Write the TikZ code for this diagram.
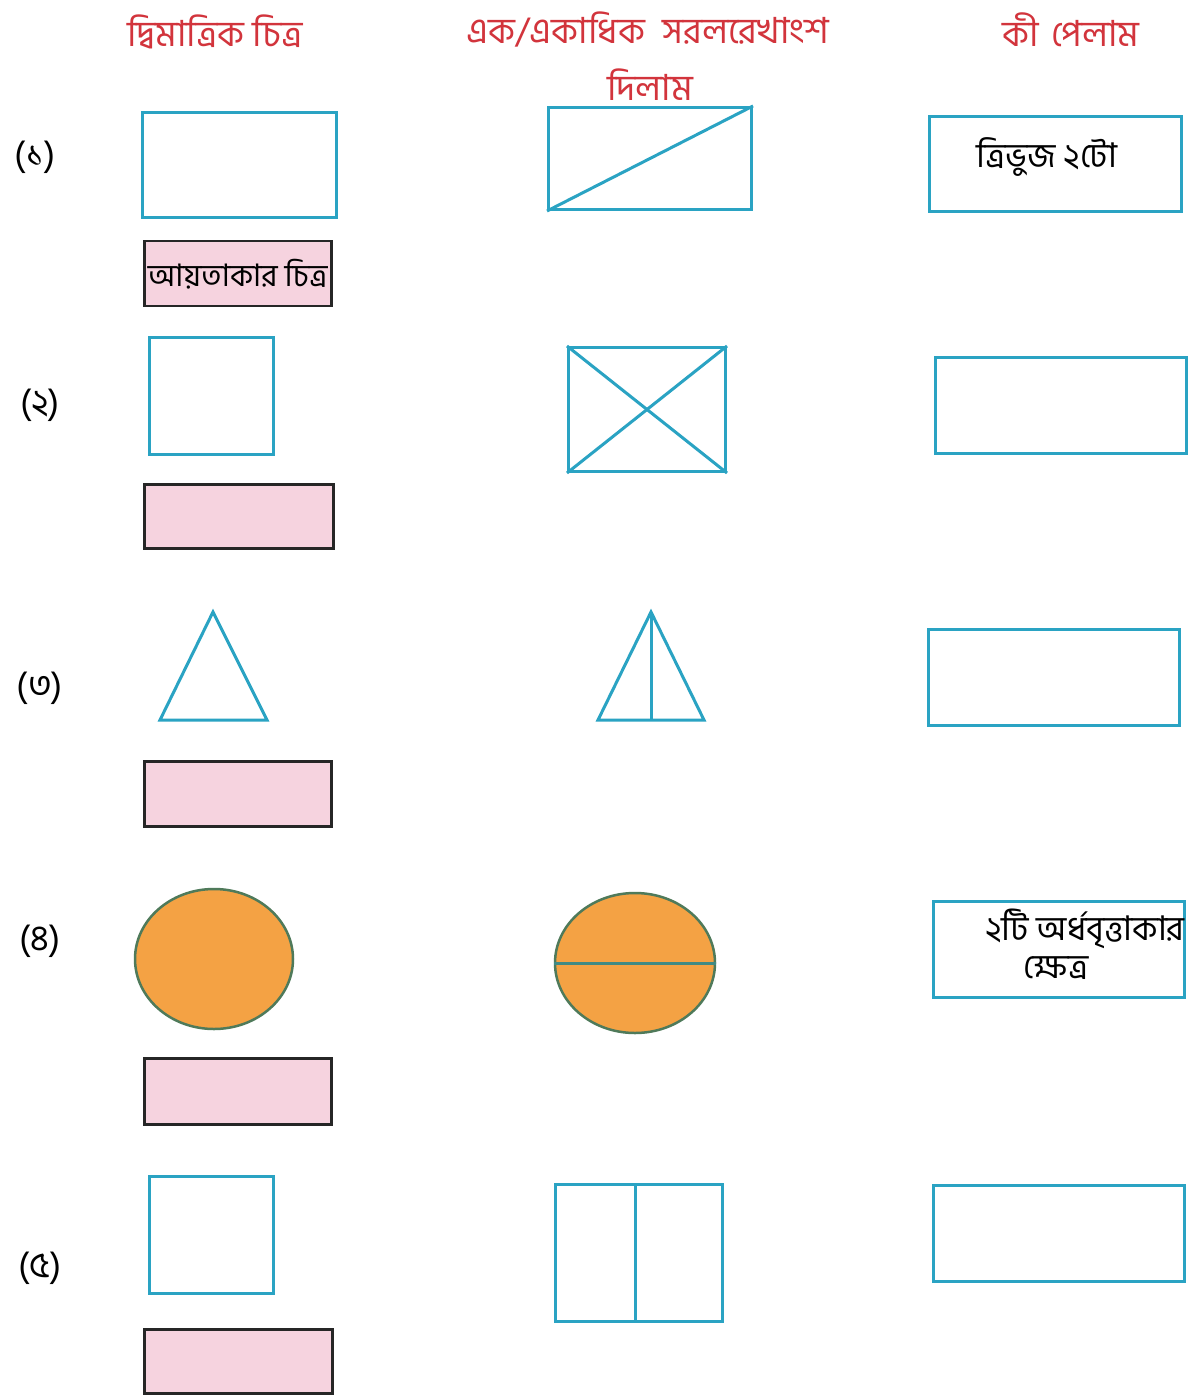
\documentclass[tikz,border=0pt]{standalone}
\usepackage{fontspec}
\newfontfamily\bn[Script=Bengali]{Hind Siliguri}
\usetikzlibrary{shapes.geometric}
\definecolor{lineblue}{HTML}{2AA3C3}
\definecolor{headred}{HTML}{D2343C}
\definecolor{pinkfill}{HTML}{F6D3DF}
\definecolor{orangefill}{HTML}{F4A244}
\definecolor{rimgreen}{HTML}{4F7A5A}
\begin{document}
\begin{tikzpicture}[x=1pt,y=-1pt,
  shapebox/.style={draw=lineblue,line width=3pt,inner sep=0pt,anchor=north west},
  labelbox/.style={draw=black!85,fill=pinkfill,line width=2.5pt,inner sep=0pt,anchor=north west,font=\bn\fontsize{31}{34}\selectfont},
  answerbox/.style={draw=lineblue,line width=3pt,inner sep=0pt,anchor=north west},
  inner/.style={draw=lineblue,line width=3pt},
  head/.style={text=headred,font=\bn\fontsize{36}{40}\selectfont,inner sep=0pt},
  rowlab/.style={font=\bn\fontsize{36}{40}\selectfont,inner sep=0pt},
  body/.style={font=\bn\fontsize{34}{38}\selectfont,inner sep=0pt},
  disc/.style={ellipse,draw=rimgreen,fill=orangefill,line width=2.5pt,inner sep=0pt}]
\useasboundingbox[fill=white] (0,0) rectangle (1190,1396);

% headers
\node[head] (h1) at (215,32) {দ্বিমাত্রিক চিত্র};
\node[head] (h2) at (648,30) {এক/একাধিক\hspace{18pt}সরলরেখাংশ};
\node[head] (h2b) at (650,85) {দিলাম};
\node[head] (h3) at (1071,30) {কী\hspace{12pt}পেলাম};

% row labels
\node[rowlab] (r1) at (35,157) {(১)};
\node[rowlab] (r2) at (40,405) {(২)};
\node[rowlab] (r3) at (40,688) {(৩)};
\node[rowlab] (r4) at (40,941) {(৪)};
\node[rowlab] (r5) at (40,1268) {(৫)};

% column 1
\node[shapebox,minimum width=194pt,minimum height=105pt] (a1) at (141,111) {};
\node[labelbox,minimum width=187pt,minimum height=65pt] (l1) at (143,240) {আয়তাকার চিত্র};

\node[shapebox,minimum width=124pt,minimum height=117pt] (a2) at (148,336) {};
\node[labelbox,minimum width=189pt,minimum height=64pt] (l2) at (143,483) {};

\coordinate (t1a) at (213,612);
\coordinate (t1b) at (160,720);
\coordinate (t1c) at (267,720);
\draw[inner,line join=miter] (t1a) -- (t1b) -- (t1c) -- cycle;
\node[labelbox,minimum width=187pt,minimum height=65pt] (l3) at (143,760) {};

\node[disc,minimum width=158pt,minimum height=140pt] (c1) at (214,959) {};
\node[labelbox,minimum width=187pt,minimum height=66pt] (l4) at (143,1057) {};

\node[shapebox,minimum width=124pt,minimum height=117pt] (a5) at (148,1175) {};
\node[labelbox,minimum width=188pt,minimum height=64pt] (l5) at (143,1328) {};

% column 2
\node[shapebox,minimum width=203pt,minimum height=102pt] (b1) at (547,106) {};
\draw[inner] (b1.south west) -- (b1.north east);

\node[shapebox,minimum width=157pt,minimum height=124pt] (b2) at (567,346) {};
\draw[inner] (b2.south west) -- (b2.north east);
\draw[inner] (b2.north west) -- (b2.south east);

\coordinate (t2a) at (651,612);
\coordinate (t2b) at (598,720);
\coordinate (t2c) at (704,720);
\coordinate (t2m) at (651,720);
\draw[inner,line join=miter] (t2a) -- (t2b) -- (t2c) -- cycle;
\draw[inner] (t2a) -- (t2m);

\node[disc,minimum width=160pt,minimum height=140pt] (c2) at (635,963) {};
\draw[draw=rimgreen!60!lineblue,line width=3pt] (c2.west) -- (c2.east);

\node[shapebox,minimum width=167pt,minimum height=137pt] (b5) at (554,1183) {};
\coordinate (b5t) at (635,1183);
\coordinate (b5b) at (635,1320);
\draw[inner] (b5t) -- (b5b);

% column 3
\node[answerbox,minimum width=252pt,minimum height=95pt] (p1) at (928,115) {};
\node[body] (p1t) at (1047,157) {ত্রিভুজ ২টো};

\node[answerbox,minimum width=251pt,minimum height=96pt] (p2) at (934,356) {};
\node[answerbox,minimum width=251pt,minimum height=96pt] (p3) at (927,628) {};

\node[answerbox,minimum width=251pt,minimum height=96pt] (p4) at (932,900) {};
\node[body,anchor=east] (p4t) at (1185,929) {২টি অর্ধবৃত্তাকার};
\node[body] (p4u) at (1056,968) {ক্ষেত্র};

\node[answerbox,minimum width=251pt,minimum height=96pt] (p5) at (932,1184) {};
\end{tikzpicture}
\end{document}
